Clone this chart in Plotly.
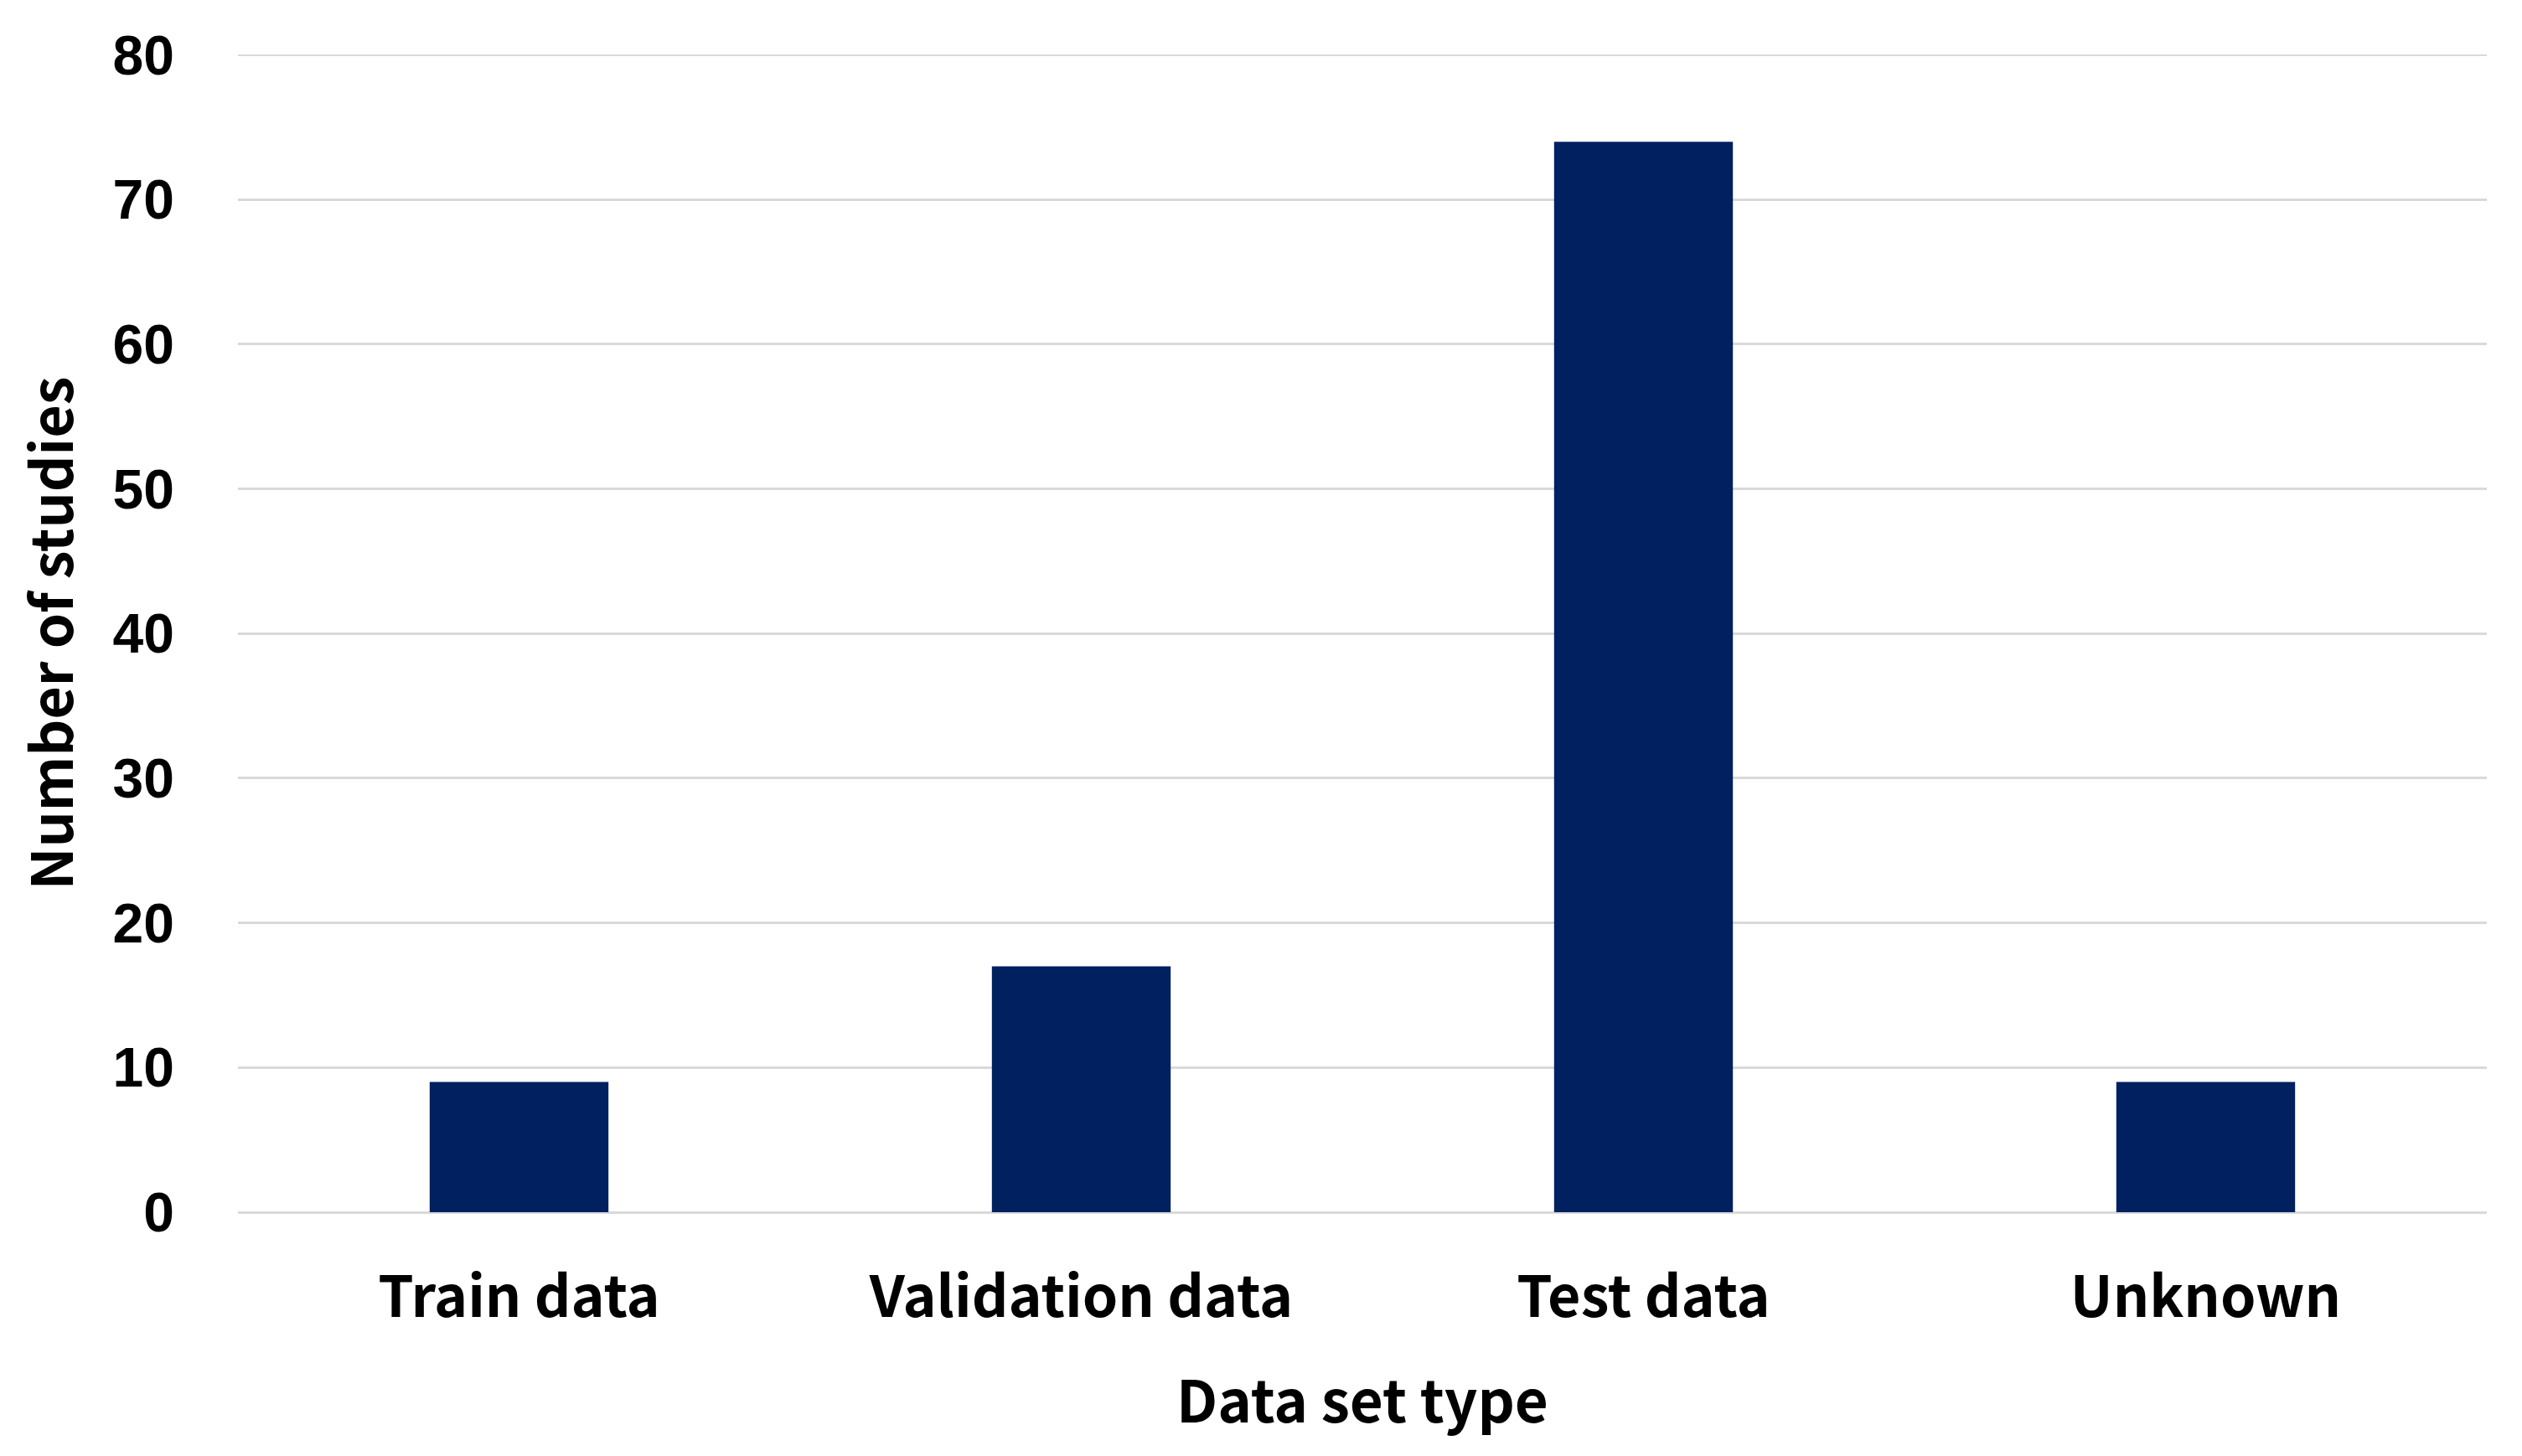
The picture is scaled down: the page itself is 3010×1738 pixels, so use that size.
import plotly.graph_objects as go

categories = ["Train data", "Validation data", "Test data", "Unknown"]
values = [9, 17, 74, 9]
y_ticks = [0, 10, 20, 30, 40, 50, 60, 70, 80]

W, H = 3010, 1738
title_font = "Noto Sans CJK KR"
num_font = "Liberation Sans"
grid_color = "#d9d9d9"

fig = go.Figure(
    go.Bar(
        x=categories,
        y=values,
        marker=dict(color="#002060", line=dict(width=0)),
        width=0.318,
    )
)

fig.update_layout(
    width=W,
    height=H,
    paper_bgcolor="white",
    plot_bgcolor="white",
    margin=dict(l=276, r=50, t=57, b=299, autoexpand=False),
    showlegend=False,
)

# top gridline (plotly omits the gridline lying on the plot edge)
fig.add_shape(
    type="line", xref="paper", yref="y",
    x0=0, x1=1, y0=y_ticks[-1], y1=y_ticks[-1],
    line=dict(color=grid_color, width=3), layer="below",
)

fig.update_xaxes(
    range=[-0.5, 3.5],
    showgrid=False,
    showline=False,
    ticks="",
    tickfont=dict(family=title_font, size=68, color="black", weight="bold"),
    ticklabelstandoff=56,
    title=dict(
        text="Data set type",
        font=dict(family=title_font, size=69, color="black", weight="bold"),
        standoff=58,
    ),
)

fig.update_yaxes(
    range=[0, 80.03],
    tickvals=y_ticks,
    showgrid=True,
    gridcolor=grid_color,
    gridwidth=3,
    zeroline=True,
    zerolinecolor=grid_color,
    zerolinewidth=3,
    showline=False,
    ticks="",
    tickfont=dict(family=num_font, size=66, color="black", weight="bold"),
    ticklabelstandoff=75,
    title=dict(
        text="Number of studies",
        font=dict(family=title_font, size=68, color="black", weight="bold"),
        standoff=36,
    ),
)

fig.write_html("out.html")
